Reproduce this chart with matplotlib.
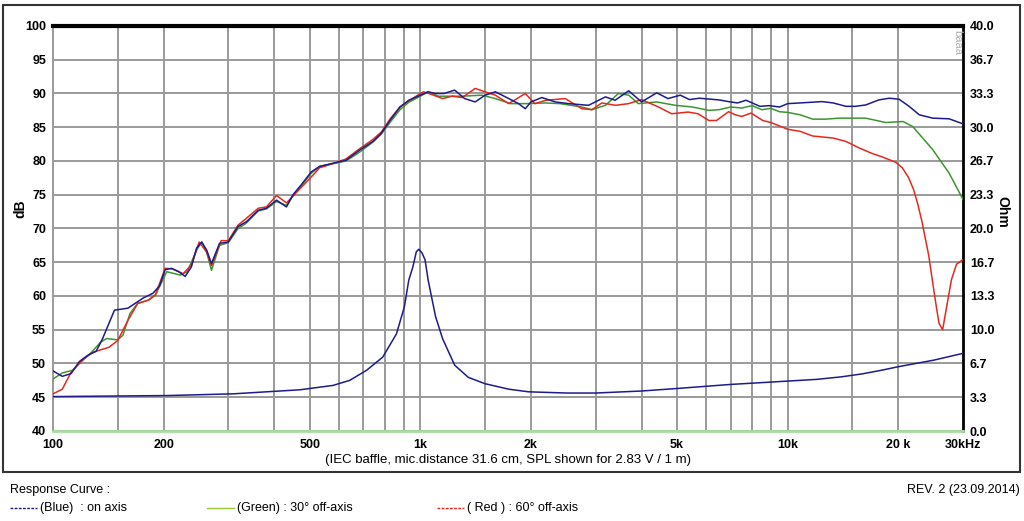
import matplotlib
matplotlib.use('Agg')
import matplotlib.pyplot as plt
from matplotlib.patches import Rectangle
from matplotlib.lines import Line2D

plt.rcParams['font.family'] = ['Liberation Sans', 'DejaVu Sans']

# on-axis SPL (blue)
blueF = [100, 106, 112, 118, 125, 131, 136, 147, 160, 176, 187, 195, 202, 210, 220, 229, 238, 246, 254,
         262, 270, 284, 300, 319, 336, 362, 381, 406, 432, 450, 476, 505, 532, 577, 627, 683, 743, 783,
         829, 880, 930, 1000, 1050, 1100, 1160, 1240, 1320, 1410, 1500, 1600, 1740, 1850, 1930, 2000,
         2140, 2330, 2530, 2870, 3190, 3390, 3690, 4000, 4400, 4720, 5100, 5400, 5750, 6500, 6900, 7300,
         7700, 8400, 8900, 9500, 10000, 10800, 12400, 13300, 14400, 15300, 16300, 17700, 18900, 20100,
         21400, 22800, 24800, 27500, 30000]
blueDB = [48.9, 48.1, 48.5, 50.3, 51.3, 51.8, 53.5, 57.9, 58.2, 59.7, 60.4, 61.5, 63.9, 64.1, 63.6, 62.9,
          64.3, 67.1, 68.0, 66.8, 64.8, 67.8, 68.0, 70.3, 71.0, 72.7, 73.0, 74.2, 73.2, 75.0, 76.6, 78.4,
          79.2, 79.65, 80.1, 81.6, 82.9, 84.1, 86.1, 88.0, 89.0, 89.75, 90.25, 90.0, 90.0, 90.5, 89.25,
          88.75, 89.75, 90.25, 89.25, 88.5, 87.75, 88.75, 89.4, 88.75, 88.5, 88.25, 89.5, 89.0, 90.4,
          88.75, 90.1, 89.25, 89.75, 89.1, 89.3, 89.05, 88.8, 88.6, 89.0, 88.1, 88.2, 88.0, 88.5, 88.6,
          88.8, 88.6, 88.1, 88.1, 88.3, 89.05, 89.3, 89.15, 88.1, 86.85, 86.35, 86.25, 85.5]

# 30 deg off-axis SPL (green)
greenF = [100, 106, 113, 118, 126, 135, 140, 150, 155, 162, 170, 182, 190, 204, 222, 232, 246, 254, 262,
          270, 284, 300, 319, 336, 362, 381, 406, 432, 450, 505, 532, 577, 627, 683, 743, 783, 829, 880,
          930, 1000, 1050, 1120, 1200, 1300, 1470, 1600, 1760, 1950, 2190, 2400, 2750, 2930, 3190, 3460,
          3690, 3920, 4400, 4940, 5500, 6100, 6500, 7000, 7500, 8000, 8500, 9000, 9500, 10000, 10800,
          11700, 12700, 13800, 16300, 18500, 20600, 21900, 24800, 27500, 30000]
greenDB = [47.7, 48.6, 49.0, 50.0, 51.4, 53.2, 53.7, 53.5, 54.2, 57.4, 58.9, 59.4, 60.1, 63.6, 63.1, 63.6,
           66.8, 68.0, 66.5, 63.8, 67.5, 67.9, 70.0, 70.8, 72.6, 72.9, 74.0, 73.4, 74.8, 78.2, 79.2, 79.6,
           80.0, 81.3, 82.8, 84.0, 85.8, 87.6, 88.7, 89.6, 90.25, 89.6, 89.6, 89.6, 89.75, 89.25, 88.5,
           88.5, 88.6, 88.5, 88.0, 87.6, 88.25, 90.0, 89.75, 88.5, 88.75, 88.25, 88.0, 87.5, 87.6, 88.0,
           87.85, 88.2, 87.6, 87.8, 87.3, 87.2, 86.85, 86.2, 86.2, 86.35, 86.35, 85.7, 85.85, 85.1, 81.7,
           78.2, 74.3]

# 60 deg off-axis SPL (red)
redF = [100, 106, 112, 121, 129, 142, 150, 160, 170, 182, 190, 202, 212, 226, 238, 250, 262, 270, 287,
        300, 319, 336, 362, 381, 406, 432, 450, 510, 532, 577, 627, 683, 743, 783, 829, 880, 930, 1000,
        1020, 1080, 1150, 1220, 1300, 1410, 1500, 1600, 1740, 1930, 2050, 2200, 2480, 2750, 2930, 3120,
        3400, 3690, 4000, 4450, 4830, 5360, 5700, 6100, 6400, 6900, 7200, 7500, 7950, 8550, 9000, 10000,
        10800, 11700, 13300, 14400, 15700, 17000, 18100, 19700, 20500, 21300, 22000, 22600, 23200, 24200,
        25200, 25800, 26400, 27000, 27900, 28800, 30000]
redDB = [45.5, 46.2, 48.7, 50.7, 51.7, 52.4, 53.4, 56.4, 58.9, 59.4, 60.2, 64.1, 64.0, 63.3, 64.6, 68.0,
         66.5, 64.5, 68.2, 68.2, 70.5, 71.5, 73.0, 73.2, 74.9, 73.8, 74.8, 77.9, 79.0, 79.6, 80.3, 81.8,
         83.2, 84.3, 86.3, 88.0, 88.9, 90.0, 90.25, 89.8, 89.25, 89.6, 89.4, 90.75, 90.25, 89.75, 88.5,
         90.0, 88.5, 89.0, 89.25, 87.75, 87.6, 88.6, 88.25, 88.5, 89.1, 88.0, 87.0, 87.25, 87.0, 86.0,
         86.0, 87.3, 86.85, 86.6, 87.1, 86.0, 85.7, 84.7, 84.4, 83.7, 83.4, 82.9, 81.9, 81.1, 80.6, 79.8,
         79.0, 77.6, 75.8, 73.6, 71.0, 66.0, 59.5, 56.0, 55.0, 58.0, 62.4, 64.7, 65.4]

# impedance (Ohm)
impF = [100, 204, 309, 470, 578, 642, 714, 790, 861, 905, 930, 954, 975, 990, 1010, 1030, 1050, 1100,
        1150, 1240, 1350, 1500, 1740, 1970, 2500, 3000, 4000, 5000, 7000, 10000, 12000, 14000, 16000,
        18000, 20000, 25000, 30000]
impOhm = [3.4, 3.5, 3.67, 4.07, 4.5, 5.0, 6.0, 7.3, 9.6, 12.3, 14.9, 16.2, 17.7, 17.95, 17.6, 16.9, 14.9,
          11.3, 9.1, 6.5, 5.3, 4.67, 4.13, 3.87, 3.75, 3.75, 3.95, 4.2, 4.6, 4.93, 5.1, 5.35, 5.65, 6.0,
          6.35, 7.0, 7.67]
impOffF = [100, 30000]
impOffOhm = [0.0, 0.0]

gridFreqs = [150, 200, 300, 400, 500, 600, 700, 800, 900, 1000, 1500, 2000, 3000, 4000, 5000, 6000,
             7000, 8000, 9000, 10000, 15000, 20000]
xTickF = [100, 200, 500, 1000, 2000, 5000, 10000, 20000, 30000]
xTickLabels = ['100', '200', '500', '1k', '2k', '5k', '10k', '20 k', '30kHz']
dbTicks = [40, 45, 50, 55, 60, 65, 70, 75, 80, 85, 90, 95, 100]
ohmTicks = [40 * i / 12 for i in range(13)]

BLUE = '#1c1c8c'
GREEN = '#3c9630'
RED = '#e8281e'
GRID = '#9a9a9a'

fig = plt.figure(figsize=(10.24, 5.21), dpi=100)
fig.patch.set_facecolor('white')
fig.add_artist(Rectangle((3 / 1024, 1 - 472 / 521), 1017 / 1024, 467 / 521, transform=fig.transFigure,
                         fill=False, edgecolor='#333333', linewidth=1.5))

ax = fig.add_axes([53 / 1024, 90 / 521, 910 / 1024, 405 / 521])
ax.set_xscale('log')
ax.set_xlim(100, 30000)
ax.set_ylim(40, 100)
for f in gridFreqs:
    ax.axvline(f, color=GRID, linewidth=1.4, zorder=1)
for d in dbTicks[1:-1]:
    ax.axhline(d, color=GRID, linewidth=1.4, zorder=1)

ax.set_xticks(xTickF)
ax.set_xticklabels(xTickLabels, fontsize=9, fontweight='bold')
ax.xaxis.set_minor_locator(matplotlib.ticker.NullLocator())
ax.set_yticks(dbTicks)
ax.set_yticklabels([str(d) for d in dbTicks], fontsize=9, fontweight='bold')
ax.tick_params(length=0, pad=5)
ax.tick_params(axis='x', pad=6)
ax.set_ylabel('dB', fontsize=10, fontweight='bold')
ax.yaxis.set_label_coords(-0.028, 0.55)
ax.set_xlabel('(IEC baffle, mic.distance 31.6 cm, SPL shown for 2.83 V / 1 m)', fontsize=9.5, labelpad=2)

ax.spines['top'].set_linewidth(3)
ax.spines['top'].set_color('black')
ax.spines['right'].set_linewidth(2)
ax.spines['right'].set_color('black')
ax.spines['left'].set_color(GRID)
ax.spines['left'].set_linewidth(1.4)
ax.spines['bottom'].set_color(GRID)
ax.spines['bottom'].set_linewidth(1.4)

ax.plot(greenF, greenDB, color=GREEN, linewidth=1.1, zorder=3)
ax.plot(redF, redDB, color=RED, linewidth=1.1, zorder=4)
ax.plot(blueF, blueDB, color=BLUE, linewidth=1.1, zorder=5)

ax2 = ax.twinx()
ax2.set_ylim(0, 40)
ax2.set_yticks(ohmTicks)
ax2.set_yticklabels(['%.1f' % v for v in ohmTicks], fontsize=9, fontweight='bold')
ax2.tick_params(length=0, pad=5)
ax2.set_ylabel('Ohm', fontsize=10, fontweight='bold', rotation=-90, va='center')
ax2.yaxis.set_label_coords(1.043, 0.541)
for s in ax2.spines.values():
    s.set_visible(False)
ax2.plot(impOffF, impOffOhm, color='#a8dca0', linewidth=2.0, zorder=2, clip_on=False)
ax2.plot(impF, impOhm, color=BLUE, linewidth=1.1, zorder=5)

# faint mark at top right corner of the plot
fig.text(957 / 1024, 1 - 43 / 521, 'baaa', fontsize=8, color='#b0b0b0', rotation=-90,
         ha='center', va='center')

# footer
fig.text(10 / 1024, 1 - 490 / 521, 'Response Curve :', fontsize=9, va='center')
fig.text(1020 / 1024, 1 - 490 / 521, 'REV. 2 (23.09.2014)', fontsize=9, va='center', ha='right')
legendItems = [(10, BLUE, '(Blue)  : on axis', (0, (2, 1))),
               (207, '#9ac83c', '(Green) : 30\u00b0 off-axis', '-'),
               (437, RED, '( Red ) : 60\u00b0 off-axis', (0, (2, 1)))]
yLeg = 1 - 508 / 521
for x0, c, label, ls in legendItems:
    fig.add_artist(Line2D([x0 / 1024, (x0 + 27) / 1024], [yLeg, yLeg], transform=fig.transFigure,
                          color=c, linewidth=1.0, linestyle=ls))
    fig.text((x0 + 30) / 1024, yLeg, label, fontsize=9, va='center')

fig.savefig('out.png', dpi=100)
